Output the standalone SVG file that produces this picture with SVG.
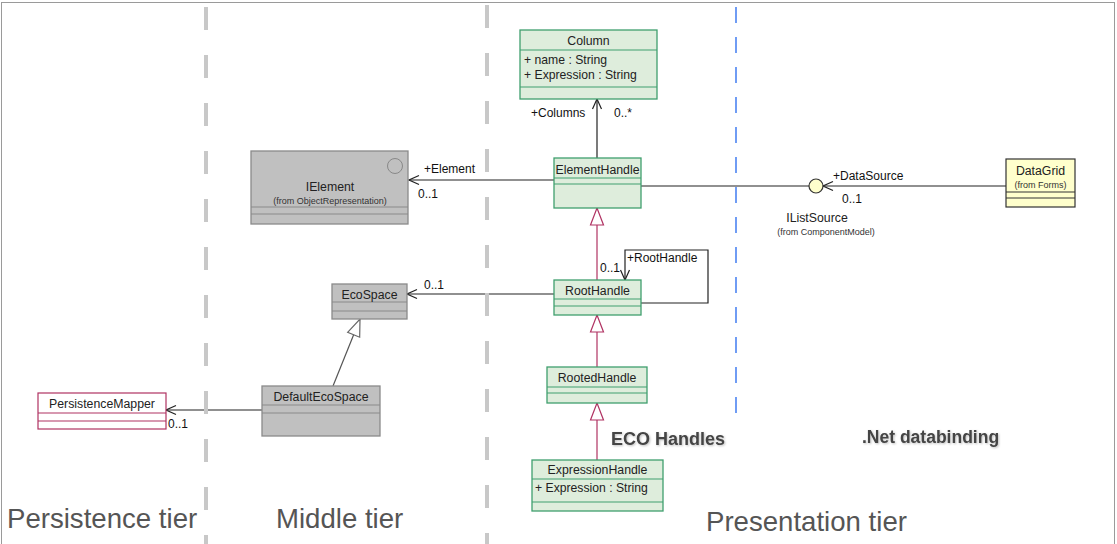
<svg xmlns="http://www.w3.org/2000/svg" width="1117" height="544" viewBox="0 0 1117 544">
  <style>
    text { font-family: "Liberation Sans", Arial, sans-serif; }
    .nm { font-size: 12.3px; fill: #222; text-anchor: middle; }
    .at { font-size: 12.2px; fill: #222; }
    .from { font-size: 9px; fill: #333; text-anchor: middle; }
    .lbl { font-size: 12px; fill: #111; }
    .green { fill: #deeddc; stroke: #3f9f6e; stroke-width: 1.3; }
    .grey { fill: #c0c0c0; stroke: #8a8a8a; stroke-width: 1.3; }
    .yellow { fill: #ffffcc; stroke: #333; stroke-width: 1.2; }
    .pm { fill: #fff; stroke: #b03262; stroke-width: 1.2; }
    .sepG { stroke: #3f9f6e; stroke-width: 1.2; }
    .sepK { stroke: #8a8a8a; stroke-width: 1.2; }
    .sepY { stroke: #333; stroke-width: 1.2; }
    .sepP { stroke: #b03262; stroke-width: 1.2; }
    .assoc { fill: none; stroke: #222; stroke-width: 1.2; marker-end: url(#open); }
    .plain { fill: none; stroke: #222; stroke-width: 1.2; }
    .genR { fill: none; stroke: #b03262; stroke-width: 1.2; marker-end: url(#triR); }
    .genK { fill: none; stroke: #555; stroke-width: 1.2; marker-end: url(#triK); }
    .tier { font-size: 27.6px; fill: #555; }
    .zone { font-size: 18px; font-weight: bold; fill: #444; filter: url(#soft); }
    .dashG { stroke: #c8c8c8; stroke-width: 4; stroke-dasharray: 23 25; }
    .dashB { stroke: #4d84f2; stroke-width: 1.6; stroke-dasharray: 16 14; }
  </style>
  <defs>
    <marker id="open" viewBox="-1 -6 12 12" refX="10" refY="0" markerWidth="12" markerHeight="12" markerUnits="userSpaceOnUse" orient="auto">
      <path d="M0,-4.5 L10,0 L0,4.5" fill="none" stroke="#222" stroke-width="1.2"/>
    </marker>
    <marker id="triR" viewBox="-1 -8 19 16" refX="17" refY="0" markerWidth="19" markerHeight="16" markerUnits="userSpaceOnUse" orient="auto">
      <path d="M0,-6.5 L17,0 L0,6.5 Z" fill="#fff" stroke="#b03262" stroke-width="1.2"/>
    </marker>
    <marker id="triK" viewBox="-1 -8 19 16" refX="17" refY="0" markerWidth="19" markerHeight="16" markerUnits="userSpaceOnUse" orient="auto">
      <path d="M0,-6.5 L17,0 L0,6.5 Z" fill="#fff" stroke="#666" stroke-width="1.2"/>
    </marker>
    <filter id="soft" x="-10%" y="-30%" width="120%" height="160%">
      <feDropShadow dx="1" dy="1" stdDeviation="1" flood-color="#000" flood-opacity="0.25"/>
    </filter>
  </defs>

  <rect x="0" y="0" width="1117" height="544" fill="#fff"/>
  <rect x="1.5" y="2.5" width="1113" height="560" fill="none" stroke="#9a9a9a" stroke-width="1"/>

  <!-- connectors -->
  <g id="connectors">
    <path class="assoc" d="M597,158 V99"/>
    <path class="assoc" d="M554,180 H409"/>
    <path class="plain" d="M641,186 H809"/>
    <path class="assoc" d="M1006,186 H823"/>
    <path class="genR" d="M597,280 V208"/>
    <path class="assoc" d="M641,303 H708 V250 H625 V280"/>
    <path class="assoc" d="M554,294 H407"/>
    <path class="genR" d="M597,367 V315"/>
    <path class="genR" d="M597,460 V403"/>
    <path class="genK" d="M333,386 L360,319"/>
    <path class="assoc" d="M262,410 H166"/>
  </g>

  <!-- connector labels -->
  <g id="connector-labels">
    <text class="lbl" x="531" y="117">+Columns</text>
    <text class="lbl" x="614" y="117">0..*</text>
    <text class="lbl" x="424" y="173">+Element</text>
    <text class="lbl" x="418" y="198">0..1</text>
    <text class="lbl" x="833" y="180">+DataSource</text>
    <text class="lbl" x="842" y="203">0..1</text>
    <text class="lbl" x="627" y="262">+RootHandle</text>
    <text class="lbl" x="600" y="272">0..1</text>
    <text class="lbl" x="424" y="289">0..1</text>
    <text class="lbl" x="168" y="428">0..1</text>
  </g>

  <!-- tier separators -->
  <g id="separators">
    <line class="dashG" x1="206" y1="7" x2="206" y2="544"/>
    <line class="dashG" x1="487" y1="5" x2="487" y2="544"/>
    <line class="dashB" x1="736" y1="7" x2="736" y2="423"/>
  </g>

  <g id="Column">
    <rect class="green" x="520" y="30" width="137" height="69"/>
    <line class="sepG" x1="520" y1="50" x2="657" y2="50"/>
    <line class="sepG" x1="520" y1="87" x2="657" y2="87"/>
    <text class="nm" x="588.5" y="45">Column</text>
    <text class="at" x="524" y="64">+ name : String</text>
    <text class="at" x="524" y="79">+ Expression : String</text>
  </g>

  <g id="ElementHandle">
    <rect class="green" x="554" y="158" width="87" height="50"/>
    <line class="sepG" x1="554" y1="178" x2="641" y2="178"/>
    <line class="sepG" x1="554" y1="184" x2="641" y2="184"/>
    <text class="nm" x="597.5" y="174">ElementHandle</text>
  </g>

  <g id="IElement">
    <rect class="grey" x="251" y="151" width="157" height="73"/>
    <line class="sepK" x1="251" y1="207" x2="408" y2="207"/>
    <line class="sepK" x1="251" y1="214" x2="408" y2="214"/>
    <circle cx="395" cy="166" r="7.5" fill="none" stroke="#888" stroke-width="1"/>
    <text class="nm" x="330" y="191">IElement</text>
    <text class="from" x="330" y="204">(from ObjectRepresentation)</text>
  </g>

  <g id="IListSource">
    <circle cx="816" cy="186" r="7" fill="#ffffcc" stroke="#333" stroke-width="1.2"/>
    <text class="nm" x="817" y="222">IListSource</text>
    <text class="from" x="826" y="235">(from ComponentModel)</text>
  </g>

  <g id="DataGrid">
    <rect class="yellow" x="1006" y="159" width="69" height="48"/>
    <line class="sepY" x1="1006" y1="192" x2="1075" y2="192"/>
    <line class="sepY" x1="1006" y1="198" x2="1075" y2="198"/>
    <text class="nm" x="1040.5" y="175">DataGrid</text>
    <text class="from" x="1040.5" y="188">(from Forms)</text>
  </g>

  <g id="RootHandle">
    <rect class="green" x="554" y="280" width="87" height="35"/>
    <line class="sepG" x1="554" y1="299" x2="641" y2="299"/>
    <line class="sepG" x1="554" y1="306" x2="641" y2="306"/>
    <text class="nm" x="597.5" y="295">RootHandle</text>
  </g>

  <g id="EcoSpace">
    <rect class="grey" x="332" y="284" width="75" height="35"/>
    <line class="sepK" x1="332" y1="302" x2="407" y2="302"/>
    <line class="sepK" x1="332" y1="311" x2="407" y2="311"/>
    <text class="nm" x="369.5" y="299">EcoSpace</text>
  </g>

  <g id="RootedHandle">
    <rect class="green" x="547" y="367" width="100" height="36"/>
    <line class="sepG" x1="547" y1="387" x2="647" y2="387"/>
    <line class="sepG" x1="547" y1="393" x2="647" y2="393"/>
    <text class="nm" x="597" y="382">RootedHandle</text>
  </g>

  <g id="DefaultEcoSpace">
    <rect class="grey" x="262" y="386" width="118" height="50"/>
    <line class="sepK" x1="262" y1="405" x2="380" y2="405"/>
    <line class="sepK" x1="262" y1="413" x2="380" y2="413"/>
    <text class="nm" x="321" y="401">DefaultEcoSpace</text>
  </g>

  <g id="PersistenceMapper">
    <rect class="pm" x="38" y="393" width="128" height="36"/>
    <line class="sepP" x1="38" y1="413" x2="166" y2="413"/>
    <line class="sepP" x1="38" y1="421" x2="166" y2="421"/>
    <text class="nm" x="102" y="408">PersistenceMapper</text>
  </g>

  <g id="ExpressionHandle">
    <rect class="green" x="532" y="460" width="131" height="51"/>
    <line class="sepG" x1="532" y1="479" x2="663" y2="479"/>
    <line class="sepG" x1="532" y1="502" x2="663" y2="502"/>
    <text class="nm" x="597.5" y="474">ExpressionHandle</text>
    <text class="at" x="535" y="492">+ Expression : String</text>
  </g>

  <!-- zone and tier captions -->
  <g id="captions">
    <text class="zone" x="611" y="445">ECO Handles</text>
    <text class="zone" x="862" y="443" style="font-size:17.5px">.Net databinding</text>
    <text class="tier" x="7" y="528">Persistence tier</text>
    <text class="tier" x="276" y="528">Middle tier</text>
    <text class="tier" x="706" y="531">Presentation tier</text>
  </g>
</svg>
